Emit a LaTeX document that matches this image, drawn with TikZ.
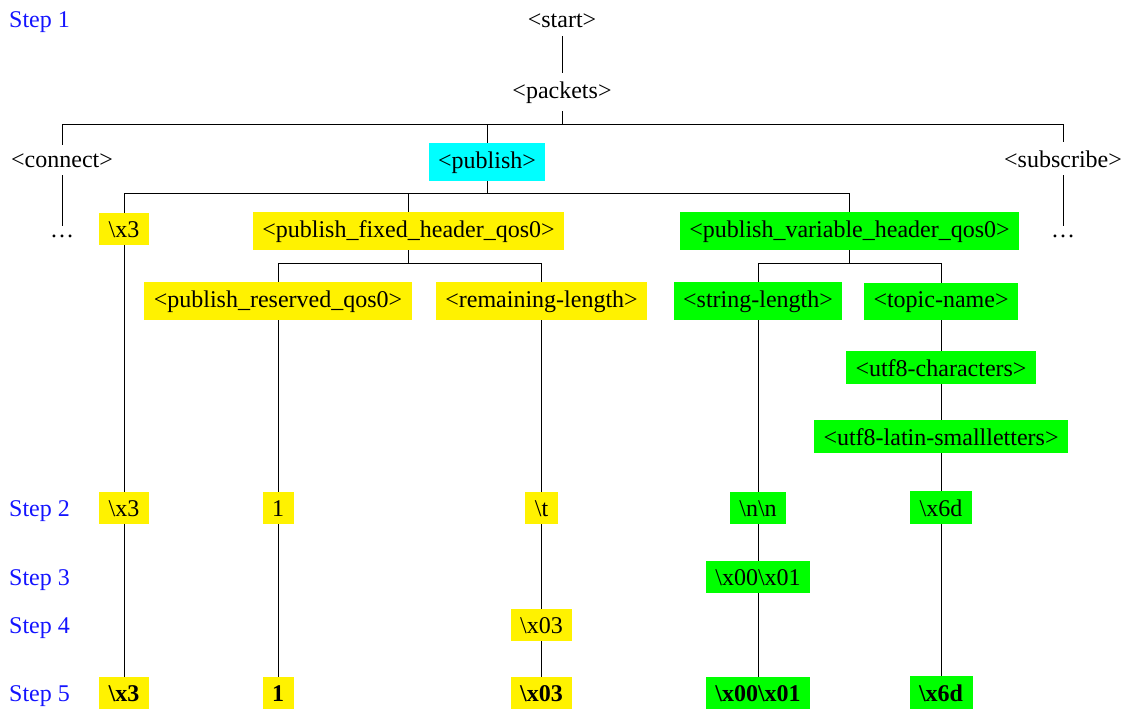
\documentclass[tikz,border=0pt]{standalone}
\usepackage{fontspec}
\setmainfont{Liberation Serif}
\definecolor{ylw}{RGB}{255,242,0}
\definecolor{grn}{RGB}{0,255,0}
\definecolor{cyn}{RGB}{0,255,255}
\definecolor{stepblue}{RGB}{20,20,255}
\begin{document}
\begin{tikzpicture}[x=1pt,y=-1pt,
  every node/.style={font=\fontsize{24}{28}\selectfont, inner ysep=8pt, inner xsep=9.5pt, anchor=base},
  plainnode/.style={},
  ybox/.style={fill=ylw},
  gbox/.style={fill=grn},
  cbox/.style={fill=cyn},
  steplabel/.style={text=stepblue, anchor=base west, inner sep=0pt},
  edge/.style={draw=black, line width=0.8pt}]
\useasboundingbox (0,0) rectangle (1126,709);
% step labels
\node[steplabel] (s1) at (9,28) {Step 1};
\node[steplabel] (s2) at (9,516) {Step 2};
\node[steplabel] (s3) at (9,585) {Step 3};
\node[steplabel] (s4) at (9,633) {Step 4};
\node[steplabel] (s5) at (9,701) {Step 5};
% tree
\node[plainnode] (start) at (562,28) {<start>};
\node[plainnode] (packets) at (562,98) {<packets>};
\node[plainnode] (connect) at (62,167) {<connect>};
\node[cbox] (publish) at (487,168) {<publish>};
\node[plainnode] (subscribe) at (1063,167) {<subscribe>};
\node[plainnode] (dotsa) at (62,237) {\dots};
\node[plainnode] (dotsb) at (1063,237) {\dots};
\node[ybox] (xa) at (124,237) {\textbackslash x3};
\node[ybox] (pfh) at (408.5,237) {<publish\_fixed\_header\_qos0>};
\node[gbox] (pvh) at (849.5,237) {<publish\_variable\_header\_qos0>};
\node[ybox] (res) at (278,307) {<publish\_reserved\_qos0>};
\node[ybox] (rem) at (541.5,307) {<remaining-length>};
\node[gbox] (slen) at (758,307) {<string-length>};
\node[gbox] (tname) at (941,307) {<topic-name>};
\node[gbox] (uchars) at (941,376) {<utf8-characters>};
\node[gbox] (ulatin) at (941,445) {<utf8-latin-smallletters>};
% step 2
\node[ybox] (xb) at (124,516) {\textbackslash x3};
\node[ybox] (oneb) at (278,516) {1};
\node[ybox] (tb) at (541.5,516) {\textbackslash t};
\node[gbox] (nnb) at (758,516) {\textbackslash n\textbackslash n};
\node[gbox] (x6db) at (941,516) {\textbackslash x6d};
% step 3
\node[gbox] (x0001c) at (758,585) {\textbackslash x00\textbackslash x01};
% step 4
\node[ybox] (x03d) at (541.5,633) {\textbackslash x03};
% step 5
\node[ybox] (xe) at (124,701) {\textbf{\textbackslash x3}};
\node[ybox] (onee) at (278,701) {\textbf{1}};
\node[ybox] (x03e) at (541.5,701) {\textbf{\textbackslash x03}};
\node[gbox] (x0001e) at (758,701) {\textbf{\textbackslash x00\textbackslash x01}};
\node[gbox] (x6de) at (941,701) {\textbf{\textbackslash x6d}};
% connectors
\draw[edge] (start) -- (packets);
\foreach \c in {connect,publish,subscribe}
  \draw[edge] (packets.south) -- (packets.south |- 0,124) -| (\c.north);
\draw[edge] (connect) -- (dotsa);
\draw[edge] (subscribe) -- (dotsb);
\foreach \c in {xa,pfh,pvh}
  \draw[edge] (publish.south) -- (publish.south |- 0,193) -| (\c.north);
\foreach \c in {res,rem}
  \draw[edge] (pfh.south) -- (pfh.south |- 0,263) -| (\c.north);
\foreach \c in {slen,tname}
  \draw[edge] (pvh.south) -- (pvh.south |- 0,263) -| (\c.north);
\draw[edge] (tname) -- (uchars);
\draw[edge] (uchars) -- (ulatin);
\draw[edge] (ulatin) -- (x6db);
\draw[edge] (x6db) -- (x6de);
\draw[edge] (xa) -- (xb);
\draw[edge] (xb) -- (xe);
\draw[edge] (res.south) -- (oneb.north);
\draw[edge] (oneb) -- (onee);
\draw[edge] (rem.south) -- (tb.north);
\draw[edge] (tb) -- (x03d);
\draw[edge] (x03d) -- (x03e);
\draw[edge] (slen.south) -- (nnb.north);
\draw[edge] (nnb) -- (x0001c);
\draw[edge] (x0001c) -- (x0001e);
\end{tikzpicture}
\end{document}
